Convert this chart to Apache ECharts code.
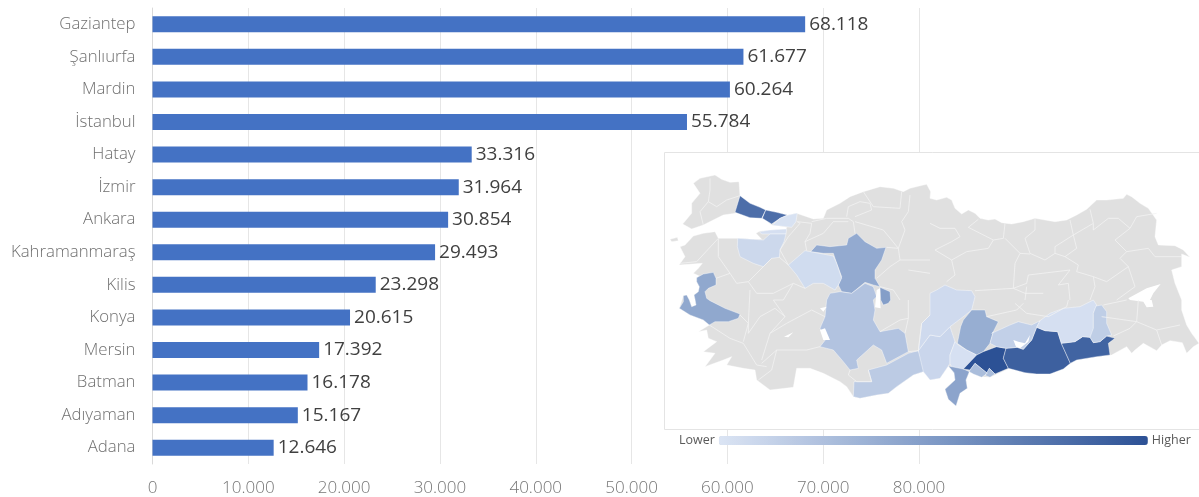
<!DOCTYPE html>
<html><head><meta charset="utf-8">
<style>html,body{margin:0;padding:0;background:#fff}#c{width:1199px;height:497px}</style>
<script src="https://cdn.jsdelivr.net/npm/echarts@6/dist/echarts.min.js"></script>
</head><body><div id="c"></div>
<script>
const categories = ['Gaziantep','Şanlıurfa','Mardin','İstanbul','Hatay','İzmir','Ankara','Kahramanmaraş','Kilis','Konya','Mersin','Batman','Adıyaman','Adana'];
const values = [68118,61677,60264,55784,33316,31964,30854,29493,23298,20615,17392,16178,15167,12646];
const tickValues = [0,10000,20000,30000,40000,50000,60000,70000,80000];
// provinces not in the bar list: value estimated from their shade on the map
const shadeOnlyValues = {Bursa:12000, 'Eskişehir':10500, Kocaeli:8000, Yalova:9000, 'Diyarbakır':9000, Osmaniye:8500, Kayseri:11000, Aksaray:36000};

// Map geometry. c1..c4 = the four quadrants of the map.
const c1 = p => p, c2 = p => p.map(([x,y]) => [x+810,y]), c3 = p => p.map(([x,y]) => [x,y+450]), c4 = p => p.map(([x,y]) => [x+810,y+450]);
const thrace = c1([[100,100],[120,85],[165,75],[185,88],[210,97],[237,95],[240,137],[226,190],[190,195],[170,205],[130,225],[95,237],[68,222],[95,190],[95,160],[120,130]]);
const gokceada = c1([[30,268],[52,262],[55,272],[35,275]]);
const anatolia = [].concat(
 c1([[310,205],[335,222],[360,205],[382,195],[410,190],[440,200],[460,207],[490,205],[500,180],[540,160],[570,140],[610,125],[660,110],[700,115],[730,125],[750,115],[790,105],[800,103],[812,125]]),
 c2([[0,145],[20,150],[50,142],[65,150],[75,175],[95,192],[115,180],[135,190],[150,205],[175,210],[195,207],[215,218],[245,222],[280,215],[315,205],[345,210],[375,215],[410,210],[440,195],[470,178],[500,150],[530,150],[580,145],[590,133],[605,140],[630,160],[655,175],[680,210],[675,260],[685,285],[735,287],[760,300],[780,322],[755,312],[755,350],[725,360],[735,400],[755,450]]),
 c4([[755,30],[770,75],[785,100],[807,130],[790,140],[770,160],[757,128],[720,122],[695,135],[680,152],[640,130],[615,150],[605,160],[590,140],[545,165],[500,170],[440,180],[390,210],[340,222],[290,220],[240,205],[180,232],[150,230],[118,215],[108,240],[112,265],[90,280],[78,318],[55,298],[45,268],[75,240],[72,218],[55,198],[30,235],[0,240]]),
 c3([[810,235],[790,215],[760,225],[710,260],[685,280],[650,285],[600,295],[580,290],[560,260],[540,245],[490,220],[450,205],[410,205],[400,262],[330,270],[290,240],[285,210],[250,205],[200,195],[215,170],[190,180],[135,200],[165,160],[130,155],[170,125],[145,115],[140,90],[115,95],[148,75],[130,60],[90,45],[58,25]]),
 c1([[70,437],[80,435],[88,450],[95,470],[108,465],[105,448],[102,435],[115,425],[118,410],[110,395],[110,383],[118,378],[100,370],[115,355],[127,340],[57,345],[75,320],[60,290],[75,285],[100,258],[130,250],[165,245],[175,265],[235,265],[280,268],[305,268],[288,250],[300,243],[378,237],[380,232],[335,225]])
);
const provinceShapes = {
 'İstanbul':[c1([[240,137],[270,160],[300,172],[317,180],[305,205],[270,203],[225,187]]), c1([[317,180],[350,187],[382,195],[360,205],[335,222],[307,205]])],
 Kocaeli:[c1([[360,205],[385,195],[412,189],[408,215],[395,232],[337,226]])],
 Yalova:[c1([[298,245],[330,240],[380,237],[378,252],[305,252]])],
 Bursa:[c1([[233,265],[280,268],[310,270],[330,252],[378,252],[372,275],[360,300],[358,322],[335,325],[310,350],[280,340],[240,320],[232,290]])],
 Ankara:[c1([[452,305],[470,285],[510,290],[560,285],[565,265],[590,250],[615,275],[650,295],[678,292],[665,330],[645,360],[645,385],[660,410],[640,405],[615,397],[575,430],[545,425],[535,405],[545,380],[530,340],[520,310],[490,310]])],
 'Eskişehir':[c1([[385,345],[435,302],[520,318],[530,340],[545,385],[535,405],[525,420],[490,400],[460,400],[435,415],[410,375]])],
 'İzmir':[c1([[110,383],[130,372],[160,367],[168,385],[168,405],[145,415],[135,425],[140,445],[150,452],[195,475],[240,492],[235,505],[205,515],[165,515],[148,525],[130,510],[90,495],[58,475],[70,455],[70,437],[80,435],[88,450],[95,470],[108,465],[105,448],[102,435],[115,425],[118,410],[110,395]])],
 Aksaray:[c1([[660,412],[690,425],[692,450],[685,460],[670,465],[662,450]])],
 Konya:[c3([[510,-20],[540,-25],[575,-20],[615,-50],[640,-40],[650,-10],[640,0],[645,30],[640,60],[660,95],[715,85],[735,100],[745,155],[680,190],[665,150],[640,135],[590,180],[595,205],[570,210],[550,185],[520,150],[480,140],[500,115],[480,85],[495,50],[500,0]])],
 Mersin:[c3([[625,210],[680,195],[745,160],[775,152],[800,215],[790,215],[760,225],[710,260],[685,280],[650,285],[600,295],[580,290],[582,245],[635,245]])],
 Adana:[c4([[-35,152],[0,105],[30,110],[60,80],[75,125],[60,165],[60,190],[55,198],[30,235],[0,240],[-20,215]])],
 Kayseri:[[[810,430],[830,420],[855,405],[890,420],[935,422],[945,440],[935,480],[910,500],[870,530],[840,560],[810,555],[775,602],[785,520],[810,495]]],
 'Kahramanmaraş':[c4([[125,30],[165,30],[170,50],[205,65],[190,95],[180,130],[160,155],[140,165],[110,150],[82,130],[92,80],[100,60]])],
 Osmaniye:[c4([[60,165],[75,125],[85,135],[110,150],[140,165],[100,207],[72,218],[60,190]])],
 Hatay:[c4([[55,198],[100,207],[118,215],[108,240],[112,265],[90,280],[78,318],[55,298],[45,268],[75,240],[72,218]])],
 Gaziantep:[c4([[100,207],[140,165],[160,155],[200,140],[228,145],[220,175],[235,205],[195,222],[178,205],[172,220],[135,190],[120,210]])],
 Kilis:[c4([[120,210],[135,190],[172,220],[155,232],[130,222],[118,215]]), c4([[178,205],[195,222],[180,232],[165,226]])],
 'Şanlıurfa':[c4([[228,145],[262,142],[280,148],[305,120],[320,82],[345,92],[383,95],[394,130],[421,190],[400,207],[360,222],[320,222],[285,218],[235,205],[220,175]])],
 Mardin:[c4([[394,130],[435,125],[458,110],[480,112],[490,128],[510,125],[530,108],[555,115],[535,130],[540,165],[500,170],[440,180],[421,190]])],
 'Adıyaman':[c4([[185,100],[240,75],[265,65],[305,75],[330,62],[320,82],[305,120],[280,148],[262,142],[228,145],[200,140],[180,130],[190,95]])],
 'Diyarbakır':[c4([[330,62],[360,40],[400,25],[450,20],[490,0],[500,15],[490,40],[490,85],[490,110],[480,112],[458,110],[435,125],[394,130],[383,95],[345,92],[320,82]])],
 Batman:[c4([[498,18],[515,15],[530,35],[530,70],[545,105],[530,108],[510,125],[490,128],[480,112],[490,85],[490,40]])]
};
const lakeShapes = {
 'Van Gölü':[[...c2([[595,445],[650,415],[692,402],[670,430],[660,450]]), ...c4([[665,0],[670,20],[650,22],[640,5],[600,0]])]],
 'Tuz Gölü':[[...c1([[650,420],[660,415],[660,450],[635,450]]), ...c3([[635,0],[660,0],[662,25],[645,22]])]],
 'Beyşehir Gölü':[c3([[480,90],[495,85],[510,120],[490,120]])],
 'Eğirdir Gölü':[c3([[372,110],[400,97],[385,112]])],
 'Akşehir Gölü':[c3([[480,25],[500,20],[490,35]])],
 'Atatürk Barajı':[c4([[285,130],[300,105],[295,125],[270,145],[258,140],[250,120],[265,125]])]
};
const borderPaths = [
 c1([[150,85],[150,120],[145,155],[170,170],[200,150],[240,137]]), c1([[145,155],[120,185],[130,225]]),
 c1([[412,215],[420,220],[385,260],[360,300],[385,345]]), c1([[412,215],[455,220],[450,250],[435,275],[440,302]]),
 c1([[455,215],[500,205],[565,205],[580,215],[585,250]]), c1([[435,275],[490,250],[520,215],[565,215]]),
 c1([[560,200],[565,170],[600,155],[630,160],[635,180],[585,200]]), c1([[610,125],[640,170],[720,175],[725,125]]),
 c1([[750,135],[745,185],[725,215],[735,240],[715,295],[680,292]]), c1([[585,215],[670,240],[715,295]]),
 c1([[715,295],[720,330],[690,350],[650,385]]), c1([[720,330],[810,330]]), c1([[745,360],[810,370]]), c1([[660,410],[700,420],[720,450]]),
 c1([[60,340],[110,335],[175,265]]), c1([[175,265],[175,320],[210,370],[230,400],[265,395],[300,360],[335,325]]),
 c1([[265,395],[290,430],[340,430],[400,400],[435,415]]), c1([[385,345],[358,322]]), c1([[168,385],[210,370]]), c1([[400,400],[370,450]]),
 c3([[148,75],[210,115],[250,130],[290,195],[320,200]]), c3([[240,45],[265,70],[250,125]]),
 c3([[265,70],[265,100],[300,50],[345,25],[375,50],[330,100],[305,180]]), c3([[330,100],[380,70],[455,30],[495,50]]),
 c3([[375,50],[340,0],[370,0]]), c3([[305,190],[350,150],[440,150],[480,140]]), c3([[350,150],[335,210],[295,240]]), c3([[270,-30],[265,70]]),
 c3([[570,210],[565,225],[590,245],[635,245],[625,210]]), c3([[660,95],[720,60],[745,55]]), c3([[745,0],[745,55],[735,100]]),
 c3([[745,155],[775,152]]), c3([[775,152],[785,70],[810,45]]),
 c2([[0,220],[30,235],[75,235],[90,260],[65,275],[15,300],[65,330],[75,375],[50,395]]), c2([[115,232],[145,208]]),
 c2([[115,232],[190,270],[175,295],[110,305],[65,330]]), c2([[190,270],[220,265],[225,220]]),
 c2([[225,265],[270,310],[255,340],[250,415]]), c2([[315,205],[315,240],[285,265],[300,310],[345,330],[375,310],[375,290],[430,255],[420,210]]),
 c2([[430,255],[490,220],[480,178]]), c2([[430,255],[440,295],[405,320],[445,345],[440,365],[490,380],[495,410],[480,450]]),
 c2([[375,310],[405,320]]), c2([[270,310],[300,312]]), c2([[490,220],[490,240],[535,205],[565,205],[600,235],[555,270],[590,305],[655,295],[675,320],[755,320]]),
 c2([[600,235],[620,200],[680,190]]), c2([[590,305],[570,325],[595,350],[530,395],[490,380]]), c2([[595,350],[615,410],[560,450]]),
 c2([[135,422],[250,415],[290,400],[295,375],[420,360]]), c2([[420,360],[385,405],[415,400],[420,450]]), c2([[250,415],[285,430],[340,430]]), c2([[290,410],[285,450]]),
 c4([[170,50],[260,30],[280,10]]), c4([[255,10],[290,40],[355,50],[410,20],[415,0]]), c4([[520,15],[590,0]]),
 c4([[515,50],[620,65],[680,90],[750,75]]), c4([[620,65],[625,0]]), c4([[680,90],[695,135]]), c4([[550,108],[600,85],[620,65]])
];

const flip = r => r.map(([x,y]) => [x,-y]);
const feature = (name, rings) => ({type:'Feature', properties:{name}, geometry:{type:'MultiPolygon', coordinates:rings.map(r=>[flip(r)])}});
const features = [feature('Türkiye',[thrace,gokceada,anatolia])];
Object.keys(provinceShapes).forEach(n => features.push(feature(n, provinceShapes[n])));
Object.keys(lakeShapes).forEach(n => features.push(feature(n, lakeShapes[n])));
echarts.registerMap('tr', {type:'FeatureCollection', features});

const fmt = v => String(v).replace(/\B(?=(\d{3})+$)/g,'.');
const mapData = categories.map((n,i)=>({name:n,value:values[i]})).concat(Object.keys(shadeOnlyValues).map(n=>({name:n,value:shadeOnlyValues[n]})));

const chart = echarts.init(document.getElementById('c'),null,{renderer:'canvas'});
chart.setOption({
 animation:false,
 textStyle:{fontFamily:'"Open Sans",sans-serif'},
 grid:{left:152.5,right:280,top:8,bottom:32,containLabel:false},
 xAxis:{type:'value',min:0,max:80000,interval:10000,
  axisLine:{show:false},axisTick:{show:false},
  splitLine:{lineStyle:{color:'#e6e6e6',width:1}},
  axisLabel:{color:'#757575',fontSize:17,margin:16,fontWeight:300,formatter:v=>fmt(v)}},
 yAxis:{type:'category',data:categories,inverse:true,
  axisLine:{lineStyle:{color:'#d9d9d9'}},axisTick:{show:false},
  axisLabel:{color:'#6f6f6f',fontSize:16.8,margin:17,fontWeight:300}},
 geo:{map:'tr',silent:true,left:660,top:150,width:539,height:280,aspectScale:1,
  boundingCoords:[[0,0],[1617,-840]],z:2,roam:false,
  itemStyle:{areaColor:'#e0e0e0',borderColor:'#ffffff',borderWidth:0.4},
  regions:Object.keys(lakeShapes).map(n=>({name:n,itemStyle:{areaColor:'#ffffff',borderWidth:0}}))},
 visualMap:{type:'continuous',seriesIndex:1,min:7000,max:68118,orient:'horizontal',left:664,top:419,
  itemWidth:9,itemHeight:429,text:['Higher','Lower'],textGap:4,calculable:false,realtime:false,
  textStyle:{color:'#595959',fontSize:12.5,fontFamily:'"Open Sans",sans-serif'},
  inRange:{color:['#dbe4f4','#7f9ac6','#2c5195']}},
 graphic:{elements:[{type:'rect',z:1,silent:true,shape:{x:664.5,y:152.5,width:540,height:277},style:{fill:'#fff',stroke:'#e4e4e4',lineWidth:1}}]},
 series:[
  {type:'bar',data:values,barWidth:16,z:2,itemStyle:{color:'#4472c4'},
   label:{show:true,position:'right',distance:4,color:'#404040',fontSize:19,formatter:p=>fmt(p.value)}},
  {type:'map',geoIndex:0,data:mapData,silent:true},
  {type:'lines',coordinateSystem:'geo',polyline:true,silent:true,z:5,
   lineStyle:{color:'#f3f3f3',width:0.8,opacity:1},
   data:borderPaths.map(p=>({coords:flip(p)}))}
 ]
});
</script></body></html>
